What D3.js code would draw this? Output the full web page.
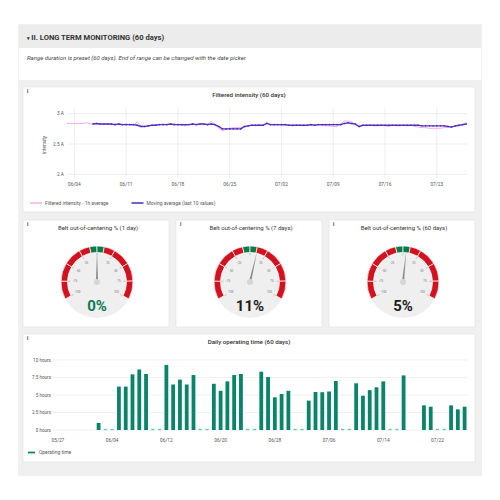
<!DOCTYPE html>
<html><head><meta charset="utf-8">
<script src="https://cdnjs.cloudflare.com/ajax/libs/d3/7.8.5/d3.min.js"></script>
<style>body{margin:0;background:#fff;}svg{display:block;font-family:Roboto,"Open Sans",sans-serif;}</style>
</head><body><svg id="c" width="500" height="500"></svg>
<script>
// ---------- DATA ----------
const headerTitle = "II. LONG TERM MONITORING (60 days)";
const headerNote = "Range duration is preset (60 days). End of range can be changed with the date picker.";

// Filtered intensity: 12-hour samples starting 2023-06-03 00:00
const intensityStart = "2023-06-03T00:00";
const intensityHourly = [
 2.84,2.84, 2.84,2.84, 2.84,2.85, 2.84,2.83, 2.84,2.82, 2.83,2.82, 2.82,2.83, 2.82,2.82,
 2.83,2.82, 2.81,2.87, 2.80,2.79, 2.80,2.81, 2.82,2.82, 2.83,2.82, 2.83,2.83, 2.82,2.81,
 2.80,2.82, 2.83,2.82, 2.84,2.82, 2.83,2.87, 2.82,2.76, 2.72,2.74, 2.76,2.77, 2.77,2.77,
 2.78,2.80, 2.81,2.80, 2.82,2.81, 2.86,2.82, 2.81,2.82, 2.81,2.81, 2.81,2.80, 2.81,2.81,
 2.80,2.81, 2.81,2.81, 2.82,2.81, 2.80,2.80, 2.79,2.79, 2.83,2.88, 2.88,2.86, 2.82,2.78,
 2.81,2.80, 2.81,2.80, 2.80,2.81, 2.80,2.79, 2.81,2.80, 2.80,2.81, 2.80,2.81, 2.79,2.78,
 2.77,2.77, 2.76,2.76, 2.76,2.76, 2.77,2.78, 2.79,2.79, 2.80,2.82, 2.86];
const intensityMoving = [
 null,null, null,null, null,null, null,2.83, 2.84,2.83, 2.83,2.83, 2.83,2.82, 2.83,2.82,
 2.82,2.82, 2.82,2.81, 2.79,2.79, 2.80,2.81, 2.81,2.82, 2.82,2.82, 2.83,2.82, 2.82,2.82,
 2.82,2.82, 2.83,2.82, 2.83,2.83, 2.82,2.83, 2.82,2.79, 2.75,2.75, 2.75,2.75, 2.75,2.75,
 2.79,2.80, 2.81,2.81, 2.81,2.81, 2.84,2.82, 2.82,2.82, 2.82,2.82, 2.81,2.81, 2.81,2.81,
 2.81,2.81, 2.82,2.81, 2.82,2.82, 2.82,2.82, 2.82,2.82, 2.82,2.84, 2.85,2.84, 2.83,2.79,
 2.81,2.81, 2.81,2.81, 2.81,2.81, 2.81,2.81, 2.81,2.81, 2.81,2.81, 2.81,2.81, 2.81,2.81,
 2.80,2.80, 2.80,2.80, 2.80,2.80, 2.80,2.79, 2.78,2.80, 2.81,2.82, 2.83];
const intensityTicks = ["06/04","06/11","06/18","06/25","07/02","07/09","07/16","07/23"];
const intensityYTicks = [2, 2.5, 3];
const intensitySeries = ["Filtered intensity - 1h average", "Moving average (last 10 values)"];

// Gauges
const gaugeTitles = ["Belt out-of-centering % (1 day)", "Belt out-of-centering % (7 days)", "Belt out-of-centering % (60 days)"];
const gaugeValues = [0, 11, 5];
const gaugeTicks = [-100,-75,-50,-25,0,25,50,75,100];
const gaugeBands = [[-100,-75,"red"],[-75,-50,"red"],[-50,-25,"red"],[-25,-10,"red"],[-10,0,"green"],[0,10,"green"],[10,25,"red"],[25,50,"red"],[50,75,"red"],[75,100,"red"]];

// Daily operating time (hours)
const opDates = ["06/02","06/03","06/04","06/05","06/06","06/07","06/08","06/09","06/10","06/11",
 "06/12","06/13","06/14","06/15","06/16","06/17","06/18","06/19","06/20","06/21","06/22","06/23",
 "06/24","06/25","06/26","06/27","06/28","06/29","06/30","07/01","07/02","07/03","07/04","07/05",
 "07/06","07/07","07/08","07/09","07/10","07/11","07/12","07/13","07/14","07/15","07/16","07/17",
 "07/20","07/21","07/22","07/23","07/24","07/25","07/26"];
const opHours = [1.0,0,0,6.2,6.2,7.95,8.65,8.0,0,0,
 9.3,6.5,7.2,6.5,7.85,0,0,6.6,5.6,6.95,7.85,8.0,
 0,0,8.33,7.57,4.67,5.14,5.6,0,0,4.2,5.43,5.4,
 5.5,7.0,0,0,6.67,4.9,5.7,6.1,6.95,0,0,7.8,
 3.52,3.33,0,0,3.52,2.95,3.33];
const opTicks = ["05/27","06/04","06/12","06/20","06/28","07/06","07/14","07/22"];
const opYTicks = [0, 2.5, 5, 7.5, 10];
const opSeries = "Operating time";

// ---------- DRAW ----------
const svg = d3.select("#c");
const parseMD = s => { const [m,d] = s.split("/").map(Number); return new Date(2023, m-1, d); };

// frame
svg.append("rect").attr("x",18).attr("y",24).attr("width",464).attr("height",452).attr("fill","#f0f0f0");
svg.append("rect").attr("x",19).attr("y",25).attr("width",462).attr("height",23).attr("fill","#ececec");
svg.append("rect").attr("x",19).attr("y",48).attr("width",462).attr("height",32).attr("fill","#ffffff");
const ht = svg.append("text").attr("x",27).attr("y",40).attr("font-size",7.6).attr("font-weight","bold").attr("fill","#333");
ht.append("tspan").attr("font-size",5).attr("dy",-0.5).text("▾ ");
ht.append("tspan").attr("dy",0.5).text(headerTitle);
svg.append("text").attr("x",27).attr("y",60).attr("font-size",6).attr("font-style","italic").attr("fill","#444").text(headerNote);

function panel(x,y,w,h){
  svg.append("rect").attr("x",x).attr("y",y).attr("width",w).attr("height",h).attr("fill","#fff").attr("stroke","#e2e2e2").attr("stroke-width",0.6);
  svg.append("text").attr("x",x+4).attr("y",y+6).attr("font-size",5).attr("font-weight","bold").attr("fill","#333").text("i");
}

// ---- Line chart panel ----
panel(23,87,452,125);
svg.append("text").attr("x",249).attr("y",97).attr("text-anchor","middle").attr("font-size",6.2).attr("font-weight",500).attr("fill","#333").text("Filtered intensity (60 days)");
const t0 = new Date(intensityStart);
const tDates = intensityHourly.map((_,i)=>d3.timeHour.offset(t0, 12*i));
const xL = d3.scaleTime().domain([t0, d3.timeHour.offset(t0, 54*24+2)]).range([67,467]);
const yL = d3.scaleLinear().domain([2,3.1]).range([174.3,107.7]);
const gL = svg.append("g");
intensityYTicks.forEach(v=>{
  gL.append("line").attr("x1",67).attr("x2",467).attr("y1",yL(v)).attr("y2",yL(v)).attr("stroke","#e3e3e3").attr("stroke-width",0.6);
  gL.append("text").attr("x",64).attr("y",yL(v)+1.7).attr("text-anchor","end").attr("font-size",4.8).attr("fill","#555").text(v+" A");
});
intensityTicks.forEach(s=>{
  const x = xL(parseMD(s));
  gL.append("line").attr("x1",x).attr("x2",x).attr("y1",107.7).attr("y2",178).attr("stroke","#e3e3e3").attr("stroke-width",0.6);
  gL.append("text").attr("x",x).attr("y",186).attr("text-anchor","middle").attr("font-size",4.8).attr("fill","#555").text(s);
});
svg.append("text").attr("transform","translate(46,145) rotate(-90)").attr("text-anchor","middle").attr("font-size",4.8).attr("fill","#555").text("Intensity");
const lineGen = d3.line().defined(d=>d[1]!=null).x(d=>xL(d[0])).y(d=>yL(d[1]));
svg.append("path").attr("d",lineGen(tDates.map((d,i)=>[d,intensityHourly[i]]))).attr("fill","none").attr("stroke","#ef9fe6").attr("stroke-width",0.9);
svg.append("path").attr("d",lineGen(tDates.map((d,i)=>[d,intensityMoving[i]]))).attr("fill","none").attr("stroke","#5636c6").attr("stroke-width",1.4);
svg.selectAll(".mk").data(tDates.map((d,i)=>[d,intensityMoving[i]]).filter(d=>d[1]!=null)).enter().append("circle")
  .attr("cx",d=>xL(d[0])).attr("cy",d=>yL(d[1])).attr("r",0.8).attr("fill","#4a2cb0");
// legend
[[30,"#ef9fe6",1.2,intensitySeries[0]],[131.5,"#5636c6",1.6,intensitySeries[1]]].forEach(([x,c,w,t])=>{
  svg.append("line").attr("x1",x).attr("x2",x+12).attr("y1",203).attr("y2",203).attr("stroke",c).attr("stroke-width",w);
  svg.append("text").attr("x",x+15).attr("y",204.8).attr("font-size",4.9).attr("fill","#555").text(t);
});

// ---- Gauges ----
const gx = [23,176,329], gw = 146;
const ang = d3.scaleLinear().domain([-100,100]).range([-118*Math.PI/180, 118*Math.PI/180]);
const arc = d3.arc().innerRadius(29.5).outerRadius(36);
gaugeValues.forEach((v,k)=>{
  const x0 = gx[k];
  panel(x0,220,gw,107);
  const cx = x0+gw/2+1, cy = 282;
  svg.append("text").attr("x",x0+gw/2+2).attr("y",230).attr("text-anchor","middle").attr("font-size",6).attr("fill","#333").text(gaugeTitles[k]);
  const g = svg.append("g").attr("transform",`translate(${cx},${cy})`);
  g.append("circle").attr("r",36).attr("fill","#efefef");
  gaugeBands.forEach(b=>{
    g.append("path").attr("d",arc({startAngle:ang(b[0]),endAngle:ang(b[1])}))
      .attr("fill", b[2]==="red" ? "#d3121f" : "#0b7a4a").attr("stroke","#fff").attr("stroke-width",0.7);
  });
  gaugeTicks.forEach(t=>{
    const a = ang(t);
    g.append("line").attr("x1",Math.sin(a)*26.5).attr("y1",-Math.cos(a)*26.5).attr("x2",Math.sin(a)*29).attr("y2",-Math.cos(a)*29).attr("stroke","#999").attr("stroke-width",0.5);
    if(t!==0) g.append("text").attr("x",Math.sin(a)*22).attr("y",-Math.cos(a)*22+1).attr("text-anchor","middle").attr("font-size",3).attr("fill","#777").text(t);
  });
  const a = ang(v);
  const tip = [Math.sin(a)*31, -Math.cos(a)*31];
  const px = Math.cos(a)*1.1, py = Math.sin(a)*1.1;
  g.append("path").attr("d",`M${px},${py}L${tip[0]},${tip[1]}L${-px},${-py}Z`).attr("fill","#8c8c8c");
  g.append("circle").attr("r",3).attr("fill","#d6d6d6");
  svg.append("text").attr("x",cx).attr("y",311).attr("text-anchor","middle").attr("font-size",15).attr("font-weight","bold")
    .attr("fill", v===0 ? "#0d7a55" : "#1d1d1d").text(v+"%");
});

// ---- Bar chart ----
panel(23,334,452,128);
svg.append("text").attr("x",249).attr("y",344).attr("text-anchor","middle").attr("font-size",6.2).attr("font-weight",500).attr("fill","#333").text("Daily operating time (60 days)");
const xB = d3.scaleTime().domain([new Date(2023,4,26,3), new Date(2023,6,26,12)]).range([52,468]);
const yB = d3.scaleLinear().domain([0,10]).range([430,360]);
opYTicks.forEach(v=>{
  svg.append("line").attr("x1",53).attr("x2",468).attr("y1",yB(v)).attr("y2",yB(v)).attr("stroke","#e6e6e6").attr("stroke-width",0.6);
  svg.append("text").attr("x",51).attr("y",yB(v)+1.6).attr("text-anchor","end").attr("font-size",4.6).attr("fill","#555").text(v+" hours");
});
opTicks.forEach(s=>{
  svg.append("text").attr("x",xB(parseMD(s))).attr("y",441.5).attr("text-anchor","middle").attr("font-size",4.8).attr("fill","#555").text(s);
});
const bw = 3.8;
opDates.forEach((s,i)=>{
  const x = xB(parseMD(s)), v = opHours[i];
  if(v>0){
    svg.append("rect").attr("x",x-bw/2).attr("y",yB(v)).attr("width",bw).attr("height",yB(0)-yB(v)).attr("fill","#0a8468");
  } else {
    svg.append("rect").attr("x",x-1.6).attr("y",yB(0)-1.2).attr("width",3.2).attr("height",1.4).attr("fill","#6ec9b0");
  }
});
svg.append("line").attr("x1",28).attr("x2",35).attr("y1",452.5).attr("y2",452.5).attr("stroke","#0a8468").attr("stroke-width",1.8);
svg.append("text").attr("x",39).attr("y",454.3).attr("font-size",4.9).attr("fill","#555").text(opSeries);
</script></body></html>
